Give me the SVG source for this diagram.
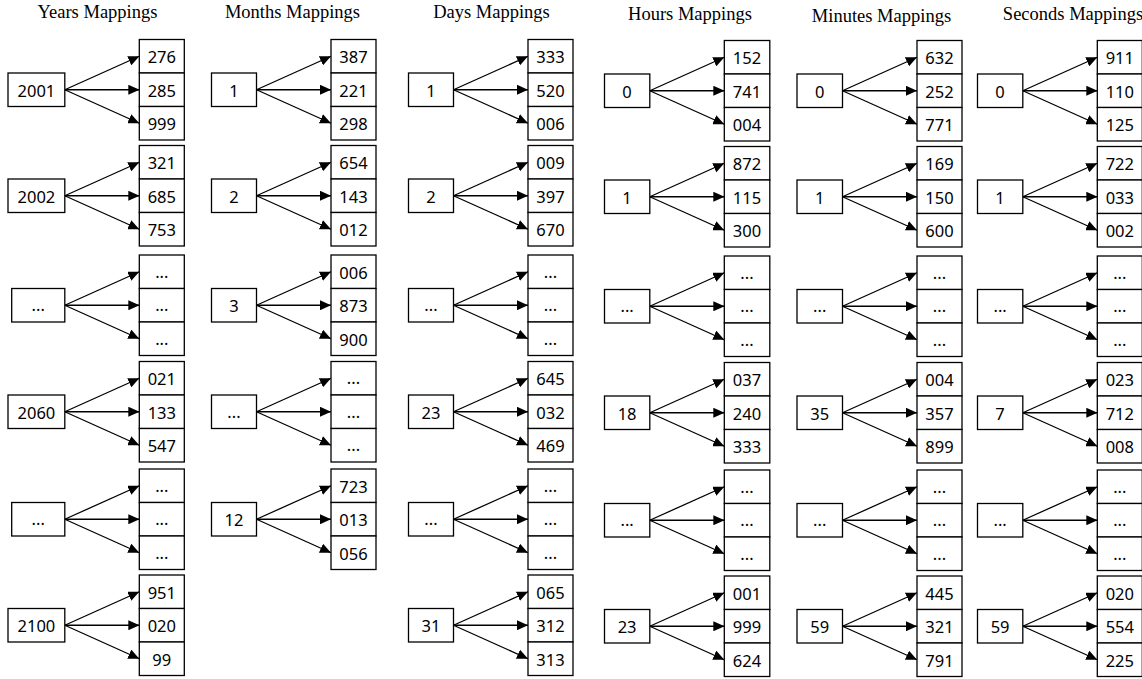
<svg xmlns="http://www.w3.org/2000/svg" width="1142" height="679" viewBox="0 0 1142 679">
  <defs>
    <marker id="ah" viewBox="0 0 11 10" refX="11" refY="5" markerWidth="11" markerHeight="10" markerUnits="userSpaceOnUse" orient="auto">
      <path d="M0,0 L11,5 L0,10 Z" fill="#000"/>
    </marker>
    <style>
      .box { fill: #fff; stroke: #000; stroke-width: 1.3; }
      .num { font-family: "Noto Sans", "Liberation Sans", sans-serif; font-size: 16.5px; text-anchor: middle; fill: #000; }
      .title { font-family: "Liberation Serif", "Times New Roman", serif; font-size: 18.5px; text-anchor: middle; fill: #000; }
      .arr line { stroke: #000; stroke-width: 1.3; marker-end: url(#ah); }
    </style>
  </defs>
  <rect width="1142" height="679" fill="#fff"/>

  <!-- column headings -->
  <g id="titles">
    <text class="title" x="97.5" y="17.5">Years Mappings</text>
    <text class="title" x="292.5" y="18">Months Mappings</text>
    <text class="title" x="491.5" y="18">Days Mappings</text>
    <text class="title" x="690" y="20">Hours Mappings</text>
    <text class="title" x="881.5" y="21.5">Minutes Mappings</text>
    <text class="title" x="1073" y="20">Seconds Mappings</text>
  </g>

  <!-- connectors: each fan starts at a key's right edge, ends at the value cells -->
  <g id="connectors" class="arr">
    <!-- years -->
    <g transform="translate(64.8,89.75)"><line x1="0" y1="0" x2="74.5" y2="-33.5"/><line x1="0" y1="0" x2="74.5" y2="0"/><line x1="0" y1="0" x2="74.5" y2="33.5"/></g>
    <g transform="translate(64.8,195.75)"><line x1="0" y1="0" x2="74.5" y2="-33.5"/><line x1="0" y1="0" x2="74.5" y2="0"/><line x1="0" y1="0" x2="74.5" y2="33.5"/></g>
    <g transform="translate(64.8,305.25)"><line x1="0" y1="0" x2="74.5" y2="-33.5"/><line x1="0" y1="0" x2="74.5" y2="0"/><line x1="0" y1="0" x2="74.5" y2="33.5"/></g>
    <g transform="translate(64.8,411.75)"><line x1="0" y1="0" x2="74.5" y2="-33.5"/><line x1="0" y1="0" x2="74.5" y2="0"/><line x1="0" y1="0" x2="74.5" y2="33.5"/></g>
    <g transform="translate(64.8,519.25)"><line x1="0" y1="0" x2="74.5" y2="-33.5"/><line x1="0" y1="0" x2="74.5" y2="0"/><line x1="0" y1="0" x2="74.5" y2="33.5"/></g>
    <g transform="translate(64.8,625.25)"><line x1="0" y1="0" x2="74.5" y2="-33.5"/><line x1="0" y1="0" x2="74.5" y2="0"/><line x1="0" y1="0" x2="74.5" y2="33.5"/></g>
    <!-- months -->
    <g transform="translate(256.5,89.75)"><line x1="0" y1="0" x2="74.5" y2="-33.5"/><line x1="0" y1="0" x2="74.5" y2="0"/><line x1="0" y1="0" x2="74.5" y2="33.5"/></g>
    <g transform="translate(256.5,195.75)"><line x1="0" y1="0" x2="74.5" y2="-33.5"/><line x1="0" y1="0" x2="74.5" y2="0"/><line x1="0" y1="0" x2="74.5" y2="33.5"/></g>
    <g transform="translate(256.5,305.25)"><line x1="0" y1="0" x2="74.5" y2="-33.5"/><line x1="0" y1="0" x2="74.5" y2="0"/><line x1="0" y1="0" x2="74.5" y2="33.5"/></g>
    <g transform="translate(256.5,411.75)"><line x1="0" y1="0" x2="74.5" y2="-33.5"/><line x1="0" y1="0" x2="74.5" y2="0"/><line x1="0" y1="0" x2="74.5" y2="33.5"/></g>
    <g transform="translate(256.5,519.25)"><line x1="0" y1="0" x2="74.5" y2="-33.5"/><line x1="0" y1="0" x2="74.5" y2="0"/><line x1="0" y1="0" x2="74.5" y2="33.5"/></g>
    <!-- days -->
    <g transform="translate(453.5,89.75)"><line x1="0" y1="0" x2="74.5" y2="-33.5"/><line x1="0" y1="0" x2="74.5" y2="0"/><line x1="0" y1="0" x2="74.5" y2="33.5"/></g>
    <g transform="translate(453.5,195.75)"><line x1="0" y1="0" x2="74.5" y2="-33.5"/><line x1="0" y1="0" x2="74.5" y2="0"/><line x1="0" y1="0" x2="74.5" y2="33.5"/></g>
    <g transform="translate(453.5,305.25)"><line x1="0" y1="0" x2="74.5" y2="-33.5"/><line x1="0" y1="0" x2="74.5" y2="0"/><line x1="0" y1="0" x2="74.5" y2="33.5"/></g>
    <g transform="translate(453.5,411.75)"><line x1="0" y1="0" x2="74.5" y2="-33.5"/><line x1="0" y1="0" x2="74.5" y2="0"/><line x1="0" y1="0" x2="74.5" y2="33.5"/></g>
    <g transform="translate(453.5,519.25)"><line x1="0" y1="0" x2="74.5" y2="-33.5"/><line x1="0" y1="0" x2="74.5" y2="0"/><line x1="0" y1="0" x2="74.5" y2="33.5"/></g>
    <g transform="translate(453.5,625.25)"><line x1="0" y1="0" x2="74.5" y2="-33.5"/><line x1="0" y1="0" x2="74.5" y2="0"/><line x1="0" y1="0" x2="74.5" y2="33.5"/></g>
    <!-- hours -->
    <g transform="translate(649.8,90.75)"><line x1="0" y1="0" x2="74.5" y2="-33.5"/><line x1="0" y1="0" x2="74.5" y2="0"/><line x1="0" y1="0" x2="74.5" y2="33.5"/></g>
    <g transform="translate(649.8,196.75)"><line x1="0" y1="0" x2="74.5" y2="-33.5"/><line x1="0" y1="0" x2="74.5" y2="0"/><line x1="0" y1="0" x2="74.5" y2="33.5"/></g>
    <g transform="translate(649.8,306.25)"><line x1="0" y1="0" x2="74.5" y2="-33.5"/><line x1="0" y1="0" x2="74.5" y2="0"/><line x1="0" y1="0" x2="74.5" y2="33.5"/></g>
    <g transform="translate(649.8,412.75)"><line x1="0" y1="0" x2="74.5" y2="-33.5"/><line x1="0" y1="0" x2="74.5" y2="0"/><line x1="0" y1="0" x2="74.5" y2="33.5"/></g>
    <g transform="translate(649.8,520.25)"><line x1="0" y1="0" x2="74.5" y2="-33.5"/><line x1="0" y1="0" x2="74.5" y2="0"/><line x1="0" y1="0" x2="74.5" y2="33.5"/></g>
    <g transform="translate(649.8,626.25)"><line x1="0" y1="0" x2="74.5" y2="-33.5"/><line x1="0" y1="0" x2="74.5" y2="0"/><line x1="0" y1="0" x2="74.5" y2="33.5"/></g>
    <!-- minutes -->
    <g transform="translate(842.5,90.75)"><line x1="0" y1="0" x2="74.5" y2="-33.5"/><line x1="0" y1="0" x2="74.5" y2="0"/><line x1="0" y1="0" x2="74.5" y2="33.5"/></g>
    <g transform="translate(842.5,196.75)"><line x1="0" y1="0" x2="74.5" y2="-33.5"/><line x1="0" y1="0" x2="74.5" y2="0"/><line x1="0" y1="0" x2="74.5" y2="33.5"/></g>
    <g transform="translate(842.5,306.25)"><line x1="0" y1="0" x2="74.5" y2="-33.5"/><line x1="0" y1="0" x2="74.5" y2="0"/><line x1="0" y1="0" x2="74.5" y2="33.5"/></g>
    <g transform="translate(842.5,412.75)"><line x1="0" y1="0" x2="74.5" y2="-33.5"/><line x1="0" y1="0" x2="74.5" y2="0"/><line x1="0" y1="0" x2="74.5" y2="33.5"/></g>
    <g transform="translate(842.5,520.25)"><line x1="0" y1="0" x2="74.5" y2="-33.5"/><line x1="0" y1="0" x2="74.5" y2="0"/><line x1="0" y1="0" x2="74.5" y2="33.5"/></g>
    <g transform="translate(842.5,626.25)"><line x1="0" y1="0" x2="74.5" y2="-33.5"/><line x1="0" y1="0" x2="74.5" y2="0"/><line x1="0" y1="0" x2="74.5" y2="33.5"/></g>
    <!-- seconds -->
    <g transform="translate(1022.8,90.75)"><line x1="0" y1="0" x2="74.5" y2="-33.5"/><line x1="0" y1="0" x2="74.5" y2="0"/><line x1="0" y1="0" x2="74.5" y2="33.5"/></g>
    <g transform="translate(1022.8,196.75)"><line x1="0" y1="0" x2="74.5" y2="-33.5"/><line x1="0" y1="0" x2="74.5" y2="0"/><line x1="0" y1="0" x2="74.5" y2="33.5"/></g>
    <g transform="translate(1022.8,306.25)"><line x1="0" y1="0" x2="74.5" y2="-33.5"/><line x1="0" y1="0" x2="74.5" y2="0"/><line x1="0" y1="0" x2="74.5" y2="33.5"/></g>
    <g transform="translate(1022.8,412.75)"><line x1="0" y1="0" x2="74.5" y2="-33.5"/><line x1="0" y1="0" x2="74.5" y2="0"/><line x1="0" y1="0" x2="74.5" y2="33.5"/></g>
    <g transform="translate(1022.8,520.25)"><line x1="0" y1="0" x2="74.5" y2="-33.5"/><line x1="0" y1="0" x2="74.5" y2="0"/><line x1="0" y1="0" x2="74.5" y2="33.5"/></g>
    <g transform="translate(1022.8,626.25)"><line x1="0" y1="0" x2="74.5" y2="-33.5"/><line x1="0" y1="0" x2="74.5" y2="0"/><line x1="0" y1="0" x2="74.5" y2="33.5"/></g>
  </g>

  <!-- ===== Years ===== -->
  <g id="year-2001" transform="translate(8,73)"><rect class="box" width="56.8" height="33.5"/><text class="num" x="28.4" y="23.5">2001</text></g>
  <g id="year-2001-values" transform="translate(139.3,39.5)"><rect class="box" width="45" height="33.5"/><rect class="box" y="33.5" width="45" height="33.5"/><rect class="box" y="67" width="45" height="33.5"/><text class="num" x="22.5" y="23.5">276</text><text class="num" x="22.5" y="57">285</text><text class="num" x="22.5" y="90.5">999</text></g>

  <g id="year-2002" transform="translate(8,179)"><rect class="box" width="56.8" height="33.5"/><text class="num" x="28.4" y="23.5">2002</text></g>
  <g id="year-2002-values" transform="translate(139.3,145.5)"><rect class="box" width="45" height="33.5"/><rect class="box" y="33.5" width="45" height="33.5"/><rect class="box" y="67" width="45" height="33.5"/><text class="num" x="22.5" y="23.5">321</text><text class="num" x="22.5" y="57">685</text><text class="num" x="22.5" y="90.5">753</text></g>

  <g id="year-gap-a" transform="translate(11.7,288.5)"><rect class="box" width="53.1" height="33.5"/><text class="num" x="26.5" y="22.5">...</text></g>
  <g id="year-gap-a-values" transform="translate(139.3,255)"><rect class="box" width="45" height="33.5"/><rect class="box" y="33.5" width="45" height="33.5"/><rect class="box" y="67" width="45" height="33.5"/><text class="num" x="22.5" y="22.5">...</text><text class="num" x="22.5" y="56">...</text><text class="num" x="22.5" y="89.5">...</text></g>

  <g id="year-2060" transform="translate(8,395)"><rect class="box" width="56.8" height="33.5"/><text class="num" x="28.4" y="23.5">2060</text></g>
  <g id="year-2060-values" transform="translate(139.3,361.5)"><rect class="box" width="45" height="33.5"/><rect class="box" y="33.5" width="45" height="33.5"/><rect class="box" y="67" width="45" height="33.5"/><text class="num" x="22.5" y="23.5">021</text><text class="num" x="22.5" y="57">133</text><text class="num" x="22.5" y="90.5">547</text></g>

  <g id="year-gap-b" transform="translate(11.7,502.5)"><rect class="box" width="53.1" height="33.5"/><text class="num" x="26.5" y="22.5">...</text></g>
  <g id="year-gap-b-values" transform="translate(139.3,469)"><rect class="box" width="45" height="33.5"/><rect class="box" y="33.5" width="45" height="33.5"/><rect class="box" y="67" width="45" height="33.5"/><text class="num" x="22.5" y="22.5">...</text><text class="num" x="22.5" y="56">...</text><text class="num" x="22.5" y="89.5">...</text></g>

  <g id="year-2100" transform="translate(8,608.5)"><rect class="box" width="56.8" height="33.5"/><text class="num" x="28.4" y="23.5">2100</text></g>
  <g id="year-2100-values" transform="translate(139.3,575)"><rect class="box" width="45" height="33.5"/><rect class="box" y="33.5" width="45" height="33.5"/><rect class="box" y="67" width="45" height="33.5"/><text class="num" x="22.5" y="23.5">951</text><text class="num" x="22.5" y="57">020</text><text class="num" x="22.5" y="90.5">99</text></g>

  <!-- ===== Months ===== -->
  <g id="month-1" transform="translate(211.5,73)"><rect class="box" width="45" height="33.5"/><text class="num" x="22.5" y="23.5">1</text></g>
  <g id="month-1-values" transform="translate(331,39.5)"><rect class="box" width="45" height="33.5"/><rect class="box" y="33.5" width="45" height="33.5"/><rect class="box" y="67" width="45" height="33.5"/><text class="num" x="22.5" y="23.5">387</text><text class="num" x="22.5" y="57">221</text><text class="num" x="22.5" y="90.5">298</text></g>

  <g id="month-2" transform="translate(211.5,179)"><rect class="box" width="45" height="33.5"/><text class="num" x="22.5" y="23.5">2</text></g>
  <g id="month-2-values" transform="translate(331,145.5)"><rect class="box" width="45" height="33.5"/><rect class="box" y="33.5" width="45" height="33.5"/><rect class="box" y="67" width="45" height="33.5"/><text class="num" x="22.5" y="23.5">654</text><text class="num" x="22.5" y="57">143</text><text class="num" x="22.5" y="90.5">012</text></g>

  <g id="month-3" transform="translate(211.5,288.5)"><rect class="box" width="45" height="33.5"/><text class="num" x="22.5" y="23.5">3</text></g>
  <g id="month-3-values" transform="translate(331,255)"><rect class="box" width="45" height="33.5"/><rect class="box" y="33.5" width="45" height="33.5"/><rect class="box" y="67" width="45" height="33.5"/><text class="num" x="22.5" y="23.5">006</text><text class="num" x="22.5" y="57">873</text><text class="num" x="22.5" y="90.5">900</text></g>

  <g id="month-gap" transform="translate(211.5,395)"><rect class="box" width="45" height="33.5"/><text class="num" x="22.5" y="22.5">...</text></g>
  <g id="month-gap-values" transform="translate(331,361.5)"><rect class="box" width="45" height="33.5"/><rect class="box" y="33.5" width="45" height="33.5"/><rect class="box" y="67" width="45" height="33.5"/><text class="num" x="22.5" y="22.5">...</text><text class="num" x="22.5" y="56">...</text><text class="num" x="22.5" y="89.5">...</text></g>

  <g id="month-12" transform="translate(211.5,502.5)"><rect class="box" width="45" height="33.5"/><text class="num" x="22.5" y="23.5">12</text></g>
  <g id="month-12-values" transform="translate(331,469)"><rect class="box" width="45" height="33.5"/><rect class="box" y="33.5" width="45" height="33.5"/><rect class="box" y="67" width="45" height="33.5"/><text class="num" x="22.5" y="23.5">723</text><text class="num" x="22.5" y="57">013</text><text class="num" x="22.5" y="90.5">056</text></g>

  <!-- ===== Days ===== -->
  <g id="day-1" transform="translate(408.5,73)"><rect class="box" width="45" height="33.5"/><text class="num" x="22.5" y="23.5">1</text></g>
  <g id="day-1-values" transform="translate(528,39.5)"><rect class="box" width="45" height="33.5"/><rect class="box" y="33.5" width="45" height="33.5"/><rect class="box" y="67" width="45" height="33.5"/><text class="num" x="22.5" y="23.5">333</text><text class="num" x="22.5" y="57">520</text><text class="num" x="22.5" y="90.5">006</text></g>

  <g id="day-2" transform="translate(408.5,179)"><rect class="box" width="45" height="33.5"/><text class="num" x="22.5" y="23.5">2</text></g>
  <g id="day-2-values" transform="translate(528,145.5)"><rect class="box" width="45" height="33.5"/><rect class="box" y="33.5" width="45" height="33.5"/><rect class="box" y="67" width="45" height="33.5"/><text class="num" x="22.5" y="23.5">009</text><text class="num" x="22.5" y="57">397</text><text class="num" x="22.5" y="90.5">670</text></g>

  <g id="day-gap-a" transform="translate(408.5,288.5)"><rect class="box" width="45" height="33.5"/><text class="num" x="22.5" y="22.5">...</text></g>
  <g id="day-gap-a-values" transform="translate(528,255)"><rect class="box" width="45" height="33.5"/><rect class="box" y="33.5" width="45" height="33.5"/><rect class="box" y="67" width="45" height="33.5"/><text class="num" x="22.5" y="22.5">...</text><text class="num" x="22.5" y="56">...</text><text class="num" x="22.5" y="89.5">...</text></g>

  <g id="day-23" transform="translate(408.5,395)"><rect class="box" width="45" height="33.5"/><text class="num" x="22.5" y="23.5">23</text></g>
  <g id="day-23-values" transform="translate(528,361.5)"><rect class="box" width="45" height="33.5"/><rect class="box" y="33.5" width="45" height="33.5"/><rect class="box" y="67" width="45" height="33.5"/><text class="num" x="22.5" y="23.5">645</text><text class="num" x="22.5" y="57">032</text><text class="num" x="22.5" y="90.5">469</text></g>

  <g id="day-gap-b" transform="translate(408.5,502.5)"><rect class="box" width="45" height="33.5"/><text class="num" x="22.5" y="22.5">...</text></g>
  <g id="day-gap-b-values" transform="translate(528,469)"><rect class="box" width="45" height="33.5"/><rect class="box" y="33.5" width="45" height="33.5"/><rect class="box" y="67" width="45" height="33.5"/><text class="num" x="22.5" y="22.5">...</text><text class="num" x="22.5" y="56">...</text><text class="num" x="22.5" y="89.5">...</text></g>

  <g id="day-31" transform="translate(408.5,608.5)"><rect class="box" width="45" height="33.5"/><text class="num" x="22.5" y="23.5">31</text></g>
  <g id="day-31-values" transform="translate(528,575)"><rect class="box" width="45" height="33.5"/><rect class="box" y="33.5" width="45" height="33.5"/><rect class="box" y="67" width="45" height="33.5"/><text class="num" x="22.5" y="23.5">065</text><text class="num" x="22.5" y="57">312</text><text class="num" x="22.5" y="90.5">313</text></g>

  <!-- ===== Hours ===== -->
  <g id="hour-0" transform="translate(604.5,74)"><rect class="box" width="45.3" height="33.5"/><text class="num" x="22.6" y="23.5">0</text></g>
  <g id="hour-0-values" transform="translate(724.3,40.5)"><rect class="box" width="45.5" height="33.5"/><rect class="box" y="33.5" width="45.5" height="33.5"/><rect class="box" y="67" width="45.5" height="33.5"/><text class="num" x="22.7" y="23.5">152</text><text class="num" x="22.7" y="57">741</text><text class="num" x="22.7" y="90.5">004</text></g>

  <g id="hour-1" transform="translate(604.5,180)"><rect class="box" width="45.3" height="33.5"/><text class="num" x="22.6" y="23.5">1</text></g>
  <g id="hour-1-values" transform="translate(724.3,146.5)"><rect class="box" width="45.5" height="33.5"/><rect class="box" y="33.5" width="45.5" height="33.5"/><rect class="box" y="67" width="45.5" height="33.5"/><text class="num" x="22.7" y="23.5">872</text><text class="num" x="22.7" y="57">115</text><text class="num" x="22.7" y="90.5">300</text></g>

  <g id="hour-gap-a" transform="translate(604.5,289.5)"><rect class="box" width="45.3" height="33.5"/><text class="num" x="22.6" y="22.5">...</text></g>
  <g id="hour-gap-a-values" transform="translate(724.3,256)"><rect class="box" width="45.5" height="33.5"/><rect class="box" y="33.5" width="45.5" height="33.5"/><rect class="box" y="67" width="45.5" height="33.5"/><text class="num" x="22.7" y="22.5">...</text><text class="num" x="22.7" y="56">...</text><text class="num" x="22.7" y="89.5">...</text></g>

  <g id="hour-18" transform="translate(604.5,396)"><rect class="box" width="45.3" height="33.5"/><text class="num" x="22.6" y="23.5">18</text></g>
  <g id="hour-18-values" transform="translate(724.3,362.5)"><rect class="box" width="45.5" height="33.5"/><rect class="box" y="33.5" width="45.5" height="33.5"/><rect class="box" y="67" width="45.5" height="33.5"/><text class="num" x="22.7" y="23.5">037</text><text class="num" x="22.7" y="57">240</text><text class="num" x="22.7" y="90.5">333</text></g>

  <g id="hour-gap-b" transform="translate(604.5,503.5)"><rect class="box" width="45.3" height="33.5"/><text class="num" x="22.6" y="22.5">...</text></g>
  <g id="hour-gap-b-values" transform="translate(724.3,470)"><rect class="box" width="45.5" height="33.5"/><rect class="box" y="33.5" width="45.5" height="33.5"/><rect class="box" y="67" width="45.5" height="33.5"/><text class="num" x="22.7" y="22.5">...</text><text class="num" x="22.7" y="56">...</text><text class="num" x="22.7" y="89.5">...</text></g>

  <g id="hour-23" transform="translate(604.5,609.5)"><rect class="box" width="45.3" height="33.5"/><text class="num" x="22.6" y="23.5">23</text></g>
  <g id="hour-23-values" transform="translate(724.3,576)"><rect class="box" width="45.5" height="33.5"/><rect class="box" y="33.5" width="45.5" height="33.5"/><rect class="box" y="67" width="45.5" height="33.5"/><text class="num" x="22.7" y="23.5">001</text><text class="num" x="22.7" y="57">999</text><text class="num" x="22.7" y="90.5">624</text></g>

  <!-- ===== Minutes ===== -->
  <g id="minute-0" transform="translate(797,74)"><rect class="box" width="45.5" height="33.5"/><text class="num" x="22.7" y="23.5">0</text></g>
  <g id="minute-0-values" transform="translate(917,40.5)"><rect class="box" width="45" height="33.5"/><rect class="box" y="33.5" width="45" height="33.5"/><rect class="box" y="67" width="45" height="33.5"/><text class="num" x="22.5" y="23.5">632</text><text class="num" x="22.5" y="57">252</text><text class="num" x="22.5" y="90.5">771</text></g>

  <g id="minute-1" transform="translate(797,180)"><rect class="box" width="45.5" height="33.5"/><text class="num" x="22.7" y="23.5">1</text></g>
  <g id="minute-1-values" transform="translate(917,146.5)"><rect class="box" width="45" height="33.5"/><rect class="box" y="33.5" width="45" height="33.5"/><rect class="box" y="67" width="45" height="33.5"/><text class="num" x="22.5" y="23.5">169</text><text class="num" x="22.5" y="57">150</text><text class="num" x="22.5" y="90.5">600</text></g>

  <g id="minute-gap-a" transform="translate(797,289.5)"><rect class="box" width="45.5" height="33.5"/><text class="num" x="22.7" y="22.5">...</text></g>
  <g id="minute-gap-a-values" transform="translate(917,256)"><rect class="box" width="45" height="33.5"/><rect class="box" y="33.5" width="45" height="33.5"/><rect class="box" y="67" width="45" height="33.5"/><text class="num" x="22.5" y="22.5">...</text><text class="num" x="22.5" y="56">...</text><text class="num" x="22.5" y="89.5">...</text></g>

  <g id="minute-35" transform="translate(797,396)"><rect class="box" width="45.5" height="33.5"/><text class="num" x="22.7" y="23.5">35</text></g>
  <g id="minute-35-values" transform="translate(917,362.5)"><rect class="box" width="45" height="33.5"/><rect class="box" y="33.5" width="45" height="33.5"/><rect class="box" y="67" width="45" height="33.5"/><text class="num" x="22.5" y="23.5">004</text><text class="num" x="22.5" y="57">357</text><text class="num" x="22.5" y="90.5">899</text></g>

  <g id="minute-gap-b" transform="translate(797,503.5)"><rect class="box" width="45.5" height="33.5"/><text class="num" x="22.7" y="22.5">...</text></g>
  <g id="minute-gap-b-values" transform="translate(917,470)"><rect class="box" width="45" height="33.5"/><rect class="box" y="33.5" width="45" height="33.5"/><rect class="box" y="67" width="45" height="33.5"/><text class="num" x="22.5" y="22.5">...</text><text class="num" x="22.5" y="56">...</text><text class="num" x="22.5" y="89.5">...</text></g>

  <g id="minute-59" transform="translate(797,609.5)"><rect class="box" width="45.5" height="33.5"/><text class="num" x="22.7" y="23.5">59</text></g>
  <g id="minute-59-values" transform="translate(917,576)"><rect class="box" width="45" height="33.5"/><rect class="box" y="33.5" width="45" height="33.5"/><rect class="box" y="67" width="45" height="33.5"/><text class="num" x="22.5" y="23.5">445</text><text class="num" x="22.5" y="57">321</text><text class="num" x="22.5" y="90.5">791</text></g>

  <!-- ===== Seconds ===== -->
  <g id="second-0" transform="translate(977.5,74)"><rect class="box" width="45.3" height="33.5"/><text class="num" x="22.6" y="23.5">0</text></g>
  <g id="second-0-values" transform="translate(1097.3,40.5)"><rect class="box" width="45" height="33.5"/><rect class="box" y="33.5" width="45" height="33.5"/><rect class="box" y="67" width="45" height="33.5"/><text class="num" x="22.5" y="23.5">911</text><text class="num" x="22.5" y="57">110</text><text class="num" x="22.5" y="90.5">125</text></g>

  <g id="second-1" transform="translate(977.5,180)"><rect class="box" width="45.3" height="33.5"/><text class="num" x="22.6" y="23.5">1</text></g>
  <g id="second-1-values" transform="translate(1097.3,146.5)"><rect class="box" width="45" height="33.5"/><rect class="box" y="33.5" width="45" height="33.5"/><rect class="box" y="67" width="45" height="33.5"/><text class="num" x="22.5" y="23.5">722</text><text class="num" x="22.5" y="57">033</text><text class="num" x="22.5" y="90.5">002</text></g>

  <g id="second-gap-a" transform="translate(977.5,289.5)"><rect class="box" width="45.3" height="33.5"/><text class="num" x="22.6" y="22.5">...</text></g>
  <g id="second-gap-a-values" transform="translate(1097.3,256)"><rect class="box" width="45" height="33.5"/><rect class="box" y="33.5" width="45" height="33.5"/><rect class="box" y="67" width="45" height="33.5"/><text class="num" x="22.5" y="22.5">...</text><text class="num" x="22.5" y="56">...</text><text class="num" x="22.5" y="89.5">...</text></g>

  <g id="second-7" transform="translate(977.5,396)"><rect class="box" width="45.3" height="33.5"/><text class="num" x="22.6" y="23.5">7</text></g>
  <g id="second-7-values" transform="translate(1097.3,362.5)"><rect class="box" width="45" height="33.5"/><rect class="box" y="33.5" width="45" height="33.5"/><rect class="box" y="67" width="45" height="33.5"/><text class="num" x="22.5" y="23.5">023</text><text class="num" x="22.5" y="57">712</text><text class="num" x="22.5" y="90.5">008</text></g>

  <g id="second-gap-b" transform="translate(977.5,503.5)"><rect class="box" width="45.3" height="33.5"/><text class="num" x="22.6" y="22.5">...</text></g>
  <g id="second-gap-b-values" transform="translate(1097.3,470)"><rect class="box" width="45" height="33.5"/><rect class="box" y="33.5" width="45" height="33.5"/><rect class="box" y="67" width="45" height="33.5"/><text class="num" x="22.5" y="22.5">...</text><text class="num" x="22.5" y="56">...</text><text class="num" x="22.5" y="89.5">...</text></g>

  <g id="second-59" transform="translate(977.5,609.5)"><rect class="box" width="45.3" height="33.5"/><text class="num" x="22.6" y="23.5">59</text></g>
  <g id="second-59-values" transform="translate(1097.3,576)"><rect class="box" width="45" height="33.5"/><rect class="box" y="33.5" width="45" height="33.5"/><rect class="box" y="67" width="45" height="33.5"/><text class="num" x="22.5" y="23.5">020</text><text class="num" x="22.5" y="57">554</text><text class="num" x="22.5" y="90.5">225</text></g>
</svg>
